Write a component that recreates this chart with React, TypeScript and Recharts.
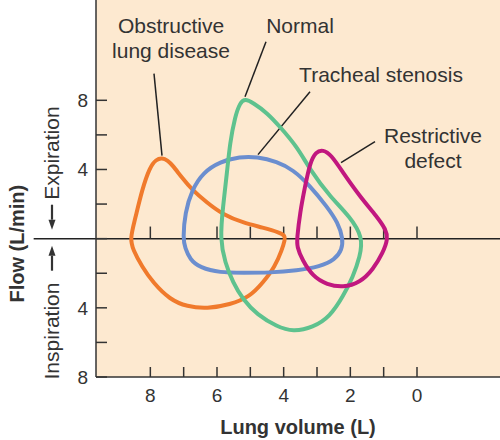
import React from 'react'
import { CartesianGrid, Line, LineChart, ReferenceDot, ReferenceLine, XAxis, YAxis } from 'recharts'

const obstructiveVolume = [8.61, 8.46, 8.25, 8.01, 7.83, 7.65, 7.47, 7.35, 7.05, 6.75, 6.3, 5.82, 5.22, 4.62, 4.11, 3.96, 3.96, 4.05, 4.26, 4.62, 5.01, 5.61, 6.3, 6.9, 7.41, 7.92, 8.25, 8.52]
const obstructiveFlow = [0, 1.1, 2.83, 4.16, 4.57, 4.68, 4.51, 4.28, 3.53, 2.83, 2.08, 1.39, 0.92, 0.64, 0.35, 0.17, -0.06, -0.64, -1.62, -2.54, -3.35, -3.82, -4.05, -3.93, -3.53, -2.54, -1.62, -0.64]

const normalVolume = [5.91, 5.82, 5.7, 5.61, 5.46, 5.31, 5.16, 4.92, 4.5, 4.11, 3.6, 3.21, 2.61, 2.01, 1.62, 1.71, 1.92, 2.22, 2.61, 3.12, 3.72, 4.2, 4.8, 5.22, 5.52, 5.76]
const normalFlow = [0, 1.85, 3.82, 5.55, 7.05, 7.86, 8.09, 7.86, 7.28, 6.47, 5.32, 3.99, 2.43, 1.27, 0.06, -1.04, -2.2, -3.35, -4.51, -5.14, -5.38, -5.09, -4.39, -3.53, -2.54, -1.39]

const stenosisVolume = [7.02, 6.96, 6.75, 6.42, 5.91, 5.31, 4.8, 4.2, 3.72, 3.21, 2.7, 2.37, 2.22, 2.25, 2.46, 2.91, 3.6, 4.41, 5.22, 5.91, 6.51, 6.81, 6.96]
const stenosisFlow = [0, 1.5, 2.83, 3.82, 4.45, 4.74, 4.74, 4.45, 3.99, 3.06, 1.85, 0.92, 0, -0.64, -1.21, -1.62, -1.85, -1.97, -1.97, -1.97, -1.68, -1.21, -0.52]

const restrictiveVolume = [3.6, 3.51, 3.36, 3.21, 3.03, 2.82, 2.58, 2.22, 1.71, 1.2, 0.93, 0.87, 1.02, 1.32, 1.71, 2.22, 2.7, 3.12, 3.45, 3.6]
const restrictiveFlow = [0, 1.5, 3.01, 4.39, 5.03, 5.14, 4.86, 3.82, 2.43, 1.27, 0.52, 0, -0.81, -1.79, -2.54, -2.83, -2.66, -2.2, -1.21, -0.46]

const volumeTicks = [0, 1, 2, 3, 4, 5, 6, 7, 8]
const volumeLabels = [0, 2, 4, 6, 8]
const flowTicks = [-8, -6, -4, -2, 0, 2, 4, 6, 8]
const flowLabels = [-8, -4, 4, 8]

// annotations: text, anchor (volume, flow), leader line ends
const noteText = [['Obstructive', 'lung disease'], ['Normal'], ['Tracheal stenosis'], ['Restrictive', 'defect']]
const noteVolume = [7.38, 3.51, 1.08, -0.48]
const noteFlow = [11.91, 11.91, 9.08, 5.55]
const leaderFrom = [[7.89, 9.54], [4.53, 11.39], [3.21, 8.5], [1.26, 5.61]]
const leaderTo = [[7.65, 4.8], [5.16, 8.21], [4.77, 4.86], [2.28, 4.39]]

const FONT = '"Liberation Sans", Arial, sans-serif'
const INK = '#333'

const zip = (vol: number[], flow: number[]) => vol.map((v, i) => ({ v, f: flow[i] }))

const loops = [
    { key: 'obstructive', data: zip(obstructiveVolume, obstructiveFlow), color: '#f07a2c' },
    { key: 'stenosis', data: zip(stenosisVolume, stenosisFlow), color: '#6b8ecf' },
    { key: 'normal', data: zip(normalVolume, normalFlow), color: '#5ec28e' },
    { key: 'restrictive', data: zip(restrictiveVolume, restrictiveFlow), color: '#c1177f' },
]

const XTick = (props: any) => {
    const { x, y, payload } = props
    return (
        <g>
            <line x1={x} x2={x} y1={y} y2={y - 10} stroke={INK} strokeWidth={1.5} />
            {volumeLabels.includes(payload.value) && (
                <text x={x} y={y + 25} textAnchor="middle" fontSize={19} fontFamily={FONT} fill={INK}>
                    {payload.value}
                </text>
            )}
        </g>
    )
}

const YTick = (props: any) => {
    const { x, y, payload } = props
    return (
        <g>
            <line x1={x} x2={x + 11} y1={y} y2={y} stroke={INK} strokeWidth={1.5} />
            {flowLabels.includes(payload.value) && (
                <text x={x - 8} y={y + 7} textAnchor="end" fontSize={19} fontFamily={FONT} fill={INK}>
                    {Math.abs(payload.value)}
                </text>
            )}
        </g>
    )
}

const noteShape = (lines: string[]) => (props: any) => (
    <text x={props.cx} y={props.cy} textAnchor="middle" fontSize={21} fontFamily={FONT} fill={INK}>
        {lines.map((t, i) => (
            <tspan key={t} x={props.cx} dy={i === 0 ? 0 : 25.5}>
                {t}
            </tspan>
        ))}
    </text>
)

const sideLabel = (text: string, anchor: string, bold: boolean) => (props: any) => (
    <text
        x={props.cx}
        y={props.cy}
        transform={`rotate(-90 ${props.cx} ${props.cy})`}
        textAnchor={anchor}
        fontSize={bold ? 20 : 21}
        fontWeight={bold ? 'bold' : 'normal'}
        fontFamily={FONT}
        fill={INK}
    >
        {text}
    </text>
)

// vertical arrow centred on the dot, dir 1 = points down, -1 = points up
const arrowShape = (dir: number) => (props: any) => {
    const { cx, cy } = props
    const tip = cy + dir * 12.5
    const base = tip - dir * 10
    return (
        <g>
            <line x1={cx} x2={cx} y1={cy - dir * 12.5} y2={base} stroke={INK} strokeWidth={2.2} />
            <polygon points={`${cx - 3.5},${base} ${cx + 3.5},${base} ${cx},${tip}`} fill={INK} />
        </g>
    )
}

export default function App() {
    return (
        <div style={{ position: 'absolute', left: 0, top: 0, width: 500, height: 440, background: '#fff' }}>
            <LineChart width={500} height={440} margin={{ top: 0, right: 0, bottom: 0, left: 0 }}>
                <CartesianGrid horizontal={false} vertical={false} fill="#fde9d0" fillOpacity={1} stroke="none" />
                <XAxis
                    type="number"
                    dataKey="v"
                    domain={[-2.49, 9.63]}
                    reversed
                    allowDataOverflow
                    ticks={volumeTicks}
                    interval={0}
                    height={63}
                    tickSize={0}
                    tickMargin={0}
                    tickLine={false}
                    tick={XTick}
                    axisLine={{ stroke: INK, strokeWidth: 1.5 }}
                    label={{ value: 'Lung volume (L)', position: 'insideBottom', offset: 6, fontSize: 20, fontWeight: 'bold', fontFamily: FONT, fill: INK }}
                />
                <YAxis
                    type="number"
                    dataKey="f"
                    domain={[-8, 13.8]}
                    allowDataOverflow
                    ticks={flowTicks}
                    interval={0}
                    width={96}
                    tickSize={0}
                    tickMargin={0}
                    tickLine={false}
                    tick={YTick}
                    axisLine={{ stroke: INK, strokeWidth: 1.5 }}
                />
                <ReferenceLine
                    segment={[{ x: 11.5, y: 0 }, { x: -2.49, y: 0 }]}
                    stroke="#222"
                    strokeWidth={1.5}
                    ifOverflow="visible"
                />
                {volumeTicks.map(v => (
                    <ReferenceLine
                        key={`zt-${v}`}
                        segment={[{ x: v, y: 0 }, { x: v, y: 0.7 }]}
                        stroke={INK}
                        strokeWidth={1.5}
                        ifOverflow="visible"
                    />
                ))}
                {leaderFrom.map((p, i) => (
                    <ReferenceLine
                        key={`ld-${i}`}
                        segment={[{ x: p[0], y: p[1] }, { x: leaderTo[i][0], y: leaderTo[i][1] }]}
                        stroke="#222"
                        strokeWidth={1.5}
                        ifOverflow="visible"
                    />
                ))}
                {loops.map(l => (
                    <Line
                        key={l.key}
                        data={l.data}
                        dataKey="f"
                        type="basisClosed"
                        stroke={l.color}
                        strokeWidth={4}
                        strokeLinejoin="round"
                        dot={false}
                        activeDot={false}
                        isAnimationActive={false}
                    />
                ))}
                {noteText.map((lines, i) => (
                    <ReferenceDot
                        key={`nt-${i}`}
                        x={noteVolume[i]}
                        y={noteFlow[i]}
                        r={0}
                        ifOverflow="visible"
                        shape={noteShape(lines)}
                    />
                ))}
                <ReferenceDot x={11.79} y={-0.29} r={0} ifOverflow="visible" shape={sideLabel('Flow (L/min)', 'middle', true)} />
                <ReferenceDot x={10.74} y={2.25} r={0} ifOverflow="visible" shape={sideLabel('Expiration', 'start', false)} />
                <ReferenceDot x={10.74} y={-2.54} r={0} ifOverflow="visible" shape={sideLabel('Inspiration', 'end', false)} />
                <ReferenceDot x={10.95} y={1.24} r={0} ifOverflow="visible" shape={arrowShape(1)} />
                <ReferenceDot x={10.95} y={-1.13} r={0} ifOverflow="visible" shape={arrowShape(-1)} />
            </LineChart>
        </div>
    )
}
